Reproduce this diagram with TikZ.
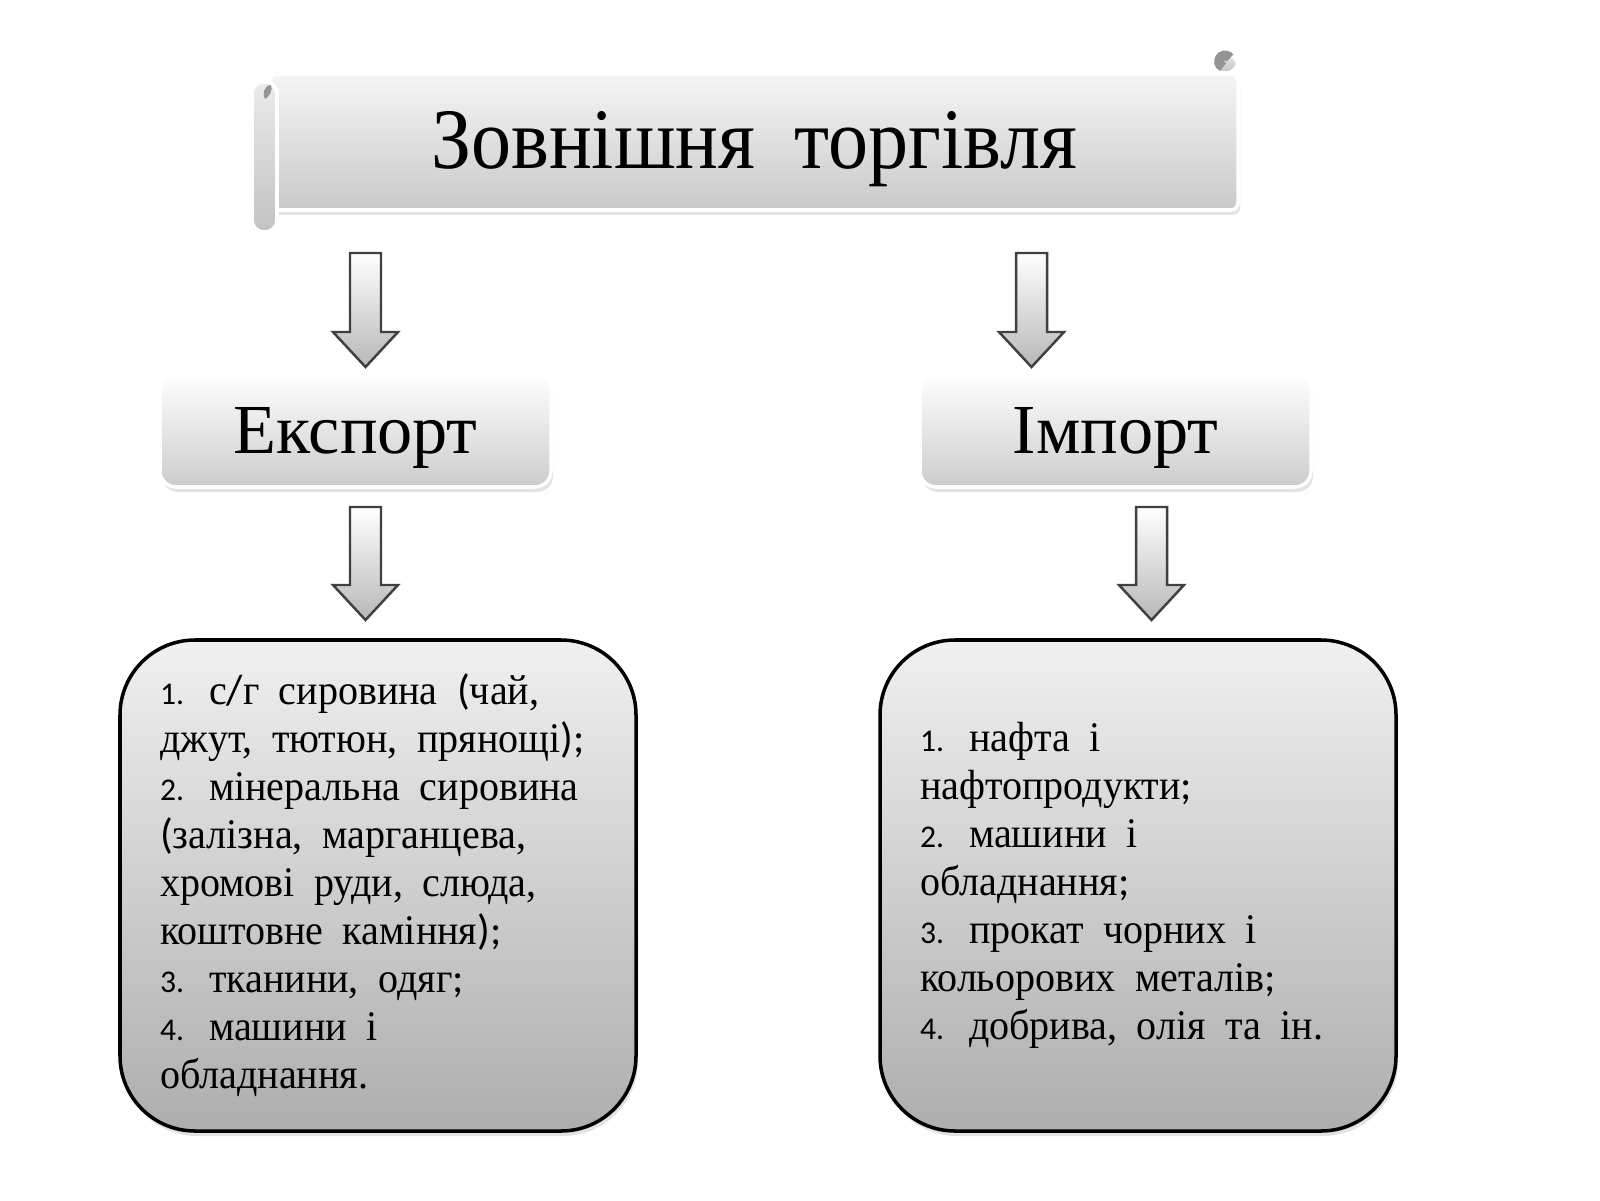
\documentclass[tikz,border=0pt]{standalone}
\usepackage{fontspec}
\setmainfont{Liberation Serif}
\newfontfamily\numfont{Carlito}
\newfontfamily\listfont{Liberation Serif}[FakeStretch=0.95]
\newfontfamily\titlefont{Liberation Serif}[FakeStretch=0.93]
\usepackage{tikz}
\usetikzlibrary{positioning, calc, shadows}

\newcommand{\punc}[1]{{\numfont #1}}
\newcommand{\lnum}[1]{\makebox[0.49cm][l]{\numfont\fontsize{9}{10}\selectfont #1.}}
\newcommand{\widesp}[1]{\spaceskip=#1em plus 0.1em minus 0.05em\relax}
\newcommand{\blockarrow}[2]{%
  \path[arrowfill] let \p1=(#1), \p2=(#2) in
    (\x1-0.155cm,\y1) -- (\x1+0.155cm,\y1) -- (\x1+0.155cm,\y2+0.35cm)
    -- (\x1+0.325cm,\y2+0.35cm) -- (\x1,\y2) -- (\x1-0.325cm,\y2+0.35cm)
    -- (\x1-0.155cm,\y2+0.35cm) -- cycle;}

\tikzset{
  softshadow/.style={drop shadow={opacity=0.22, shadow xshift=0.02cm, shadow yshift=-0.05cm}},
  scrollbox/.style={draw=white, line width=1pt, top color=black!4, bottom color=black!21,
    rounded corners=2pt, minimum width=9.68cm, minimum height=1.36cm, softshadow,
    text depth=1pt, font={\titlefont\fontsize{24.5}{28}\selectfont}},
  tube/.style={draw=white, line width=1pt, top color=black!8, bottom color=black!24,
    rounded corners=0.12cm},
  curl/.style={fill=black!42},
  headbox/.style={draw=white, line width=1pt, top color=white, bottom color=black!20,
    rounded corners=0.16cm, minimum width=3.91cm, minimum height=1.14cm, softshadow,
    text depth=0pt, font=\fontsize{20}{24}\selectfont},
  listbox/.style={draw=black, line width=1pt, top color=black!6, bottom color=black!32,
    rounded corners=0.75cm, minimum width=5.16cm, minimum height=4.91cm,
    text width=4.36cm, align=left, softshadow,
    font={\listfont\fontsize{12}{13.66}\selectfont}},
  arrowfill/.style={draw=black!75, line width=0.7pt, top color=white, bottom color=black!28}
}

\begin{document}
\begin{tikzpicture}
  \useasboundingbox (0,0) rectangle (16,12);
  \fill[white] (0,0) rectangle (16,12);

  % title scroll
  \node[scrollbox] (title) at (7.54,10.58) {\widesp{0.45}Зовнішня торгівля};
  \path[tube] (2.52,9.68) rectangle (2.77,11.18);
  \fill[curl] (2.71,11.15) .. controls (2.64,11.15) and (2.62,11.05) .. (2.65,11.01)
    .. controls (2.70,11.04) and (2.73,11.10) .. cycle;
  \path[tube] (12.12,11.27) rectangle (12.38,11.46);
  \draw[black!42, line width=2.8pt] (12.30,11.42) arc (35:250:0.06);

  \node[headbox] (export) at (3.555,7.70) {Експорт};
  \node[headbox] (import) at (11.155,7.70) {Імпорт};

  \node[listbox] (exlist) at (3.78,3.145) {\widesp{0.46}%
    \lnum{1}с\punc{/}г сировина \punc{(}чай,\\
    джут, тютюн, прянощі\punc{);}\\
    \lnum{2}мінеральна сировина\\
    \punc{(}залізна, марганцева,\\
    хромові руди, слюда,\\
    коштовне каміння\punc{);}\\
    \lnum{3}тканини, одяг\punc{;}\\
    \lnum{4}машини і\\
    обладнання.};
  \node[listbox] (imlist) at (11.38,3.145) {\widesp{0.46}%
    \lnum{1}нафта і\\
    нафтопродукти\punc{;}\\
    \lnum{2}машини і\\
    обладнання\punc{;}\\
    \lnum{3}прокат чорних і\\
    кольорових металів\punc{;}\\
    \lnum{4}добрива, олія та ін.};

  % arrows
  \coordinate (exsrc) at (3.655,9.47);  \coordinate (exdst) at (3.655,8.33);
  \coordinate (imsrc) at (10.315,9.47); \coordinate (imdst) at (10.315,8.33);
  \coordinate (elsrc) at (3.655,6.93);  \coordinate (eldst) at (3.655,5.80);
  \coordinate (ilsrc) at (11.515,6.93); \coordinate (ildst) at (11.515,5.80);
  \blockarrow{exsrc}{exdst}
  \blockarrow{imsrc}{imdst}
  \blockarrow{elsrc}{eldst}
  \blockarrow{ilsrc}{ildst}
\end{tikzpicture}
\end{document}
